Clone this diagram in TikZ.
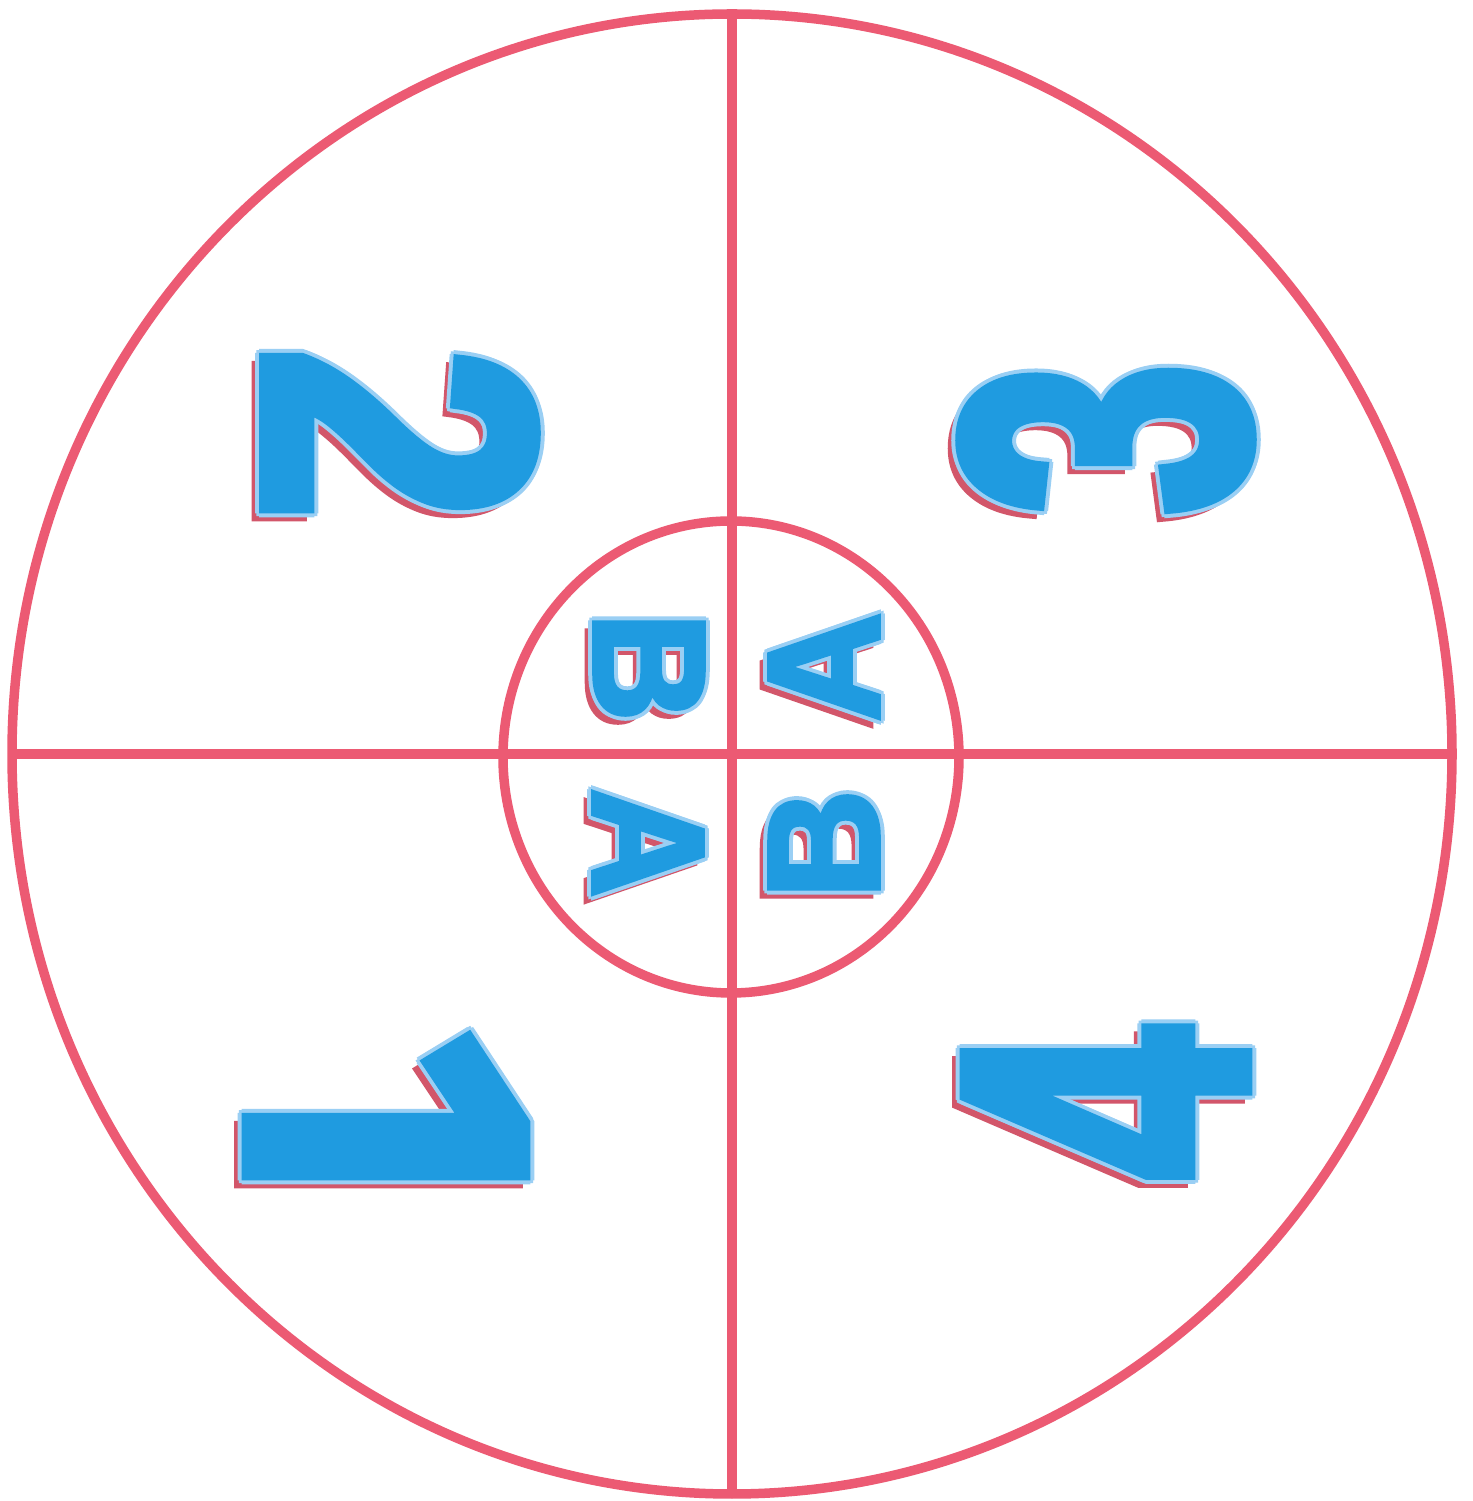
\documentclass[tikz,border=0pt]{standalone}
\usepackage{fontspec}
\usetikzlibrary{shapes.geometric, calc}
\newfontfamily\digitfont{Liberation Sans Bold}[FakeStretch=0.8, FakeBold=3]
\newfontfamily\narrowfont{Liberation Sans Bold}[FakeStretch=0.66, FakeBold=3]
\newfontfamily\onefont{Fira Sans Bold}[FakeStretch=0.92, FakeBold=2]
\newfontfamily\letterfont{Liberation Sans Bold}[FakeStretch=0.95, FakeBold=3]
\definecolor{LineRed}{HTML}{EC5A73}
\definecolor{ShadowRed}{HTML}{D2566A}
\definecolor{FillBlue}{HTML}{1F9BE0}
\definecolor{RimBlue}{HTML}{9ACFF4}

% shadow, light rim, then the blue glyph on top
\newcommand{\paintglyph}[5]{%
  \node[glyph, #4, text=ShadowRed, rotate=#3] (#1-s) at ($(#2)+(-0.075,-0.08)$) {#5};
  \foreach \a in {0,45,...,315}
    \node[glyph, #4, text=RimBlue, rotate=#3] (#1-r\a) at ($(#2)+(\a:0.04)$) {#5};
  \node[glyph, #4, text=FillBlue, rotate=#3] (#1) at (#2) {#5};
}

\begin{document}
\begin{tikzpicture}[
    ring/.style={ellipse, draw=LineRed, line width=0.095cm, inner sep=0pt, outer sep=0pt},
    cross/.style={draw=LineRed, line width=0.095cm},
    glyph/.style={inner sep=0pt, outer sep=0pt},
    bigdigit/.style={font=\digitfont\fontsize{110pt}{110pt}\selectfont},
    narrowdigit/.style={font=\narrowfont\fontsize{116pt}{116pt}\selectfont},
    onedigit/.style={font=\onefont\fontsize{118pt}{118pt}\selectfont},
    smallletter/.style={font=\letterfont\fontsize{45pt}{45pt}\selectfont}
  ]
  \useasboundingbox (0,0) rectangle (14.72,15.01);
  \fill[white] (0,0) rectangle (14.72,15.01);

  \node[ring, minimum width=14.4cm, minimum height=14.8cm] (outer) at (7.32,7.47) {};
  \node[ring, minimum width=4.56cm, minimum height=4.72cm] (inner) at (7.31,7.44) {};
  \draw[cross] (outer.west) -- (outer.east);
  \draw[cross] (outer.north) -- (outer.south);

  \paintglyph{two}{4.00,10.67}{-90}{bigdigit}{2}
  \paintglyph{three}{11.06,10.62}{90}{narrowdigit}{3}
  \paintglyph{one}{3.86,3.82}{-90}{onedigit}{1}
  \paintglyph{four}{11.06,3.98}{90}{narrowdigit}{4}

  \paintglyph{bul}{6.49,8.34}{-90}{smallletter}{B}
  \paintglyph{aur}{8.24,8.34}{90}{smallletter}{A}
  \paintglyph{all}{6.48,6.58}{-90}{smallletter}{A}
  \paintglyph{blr}{8.24,6.57}{90}{smallletter}{B}
\end{tikzpicture}
\end{document}
